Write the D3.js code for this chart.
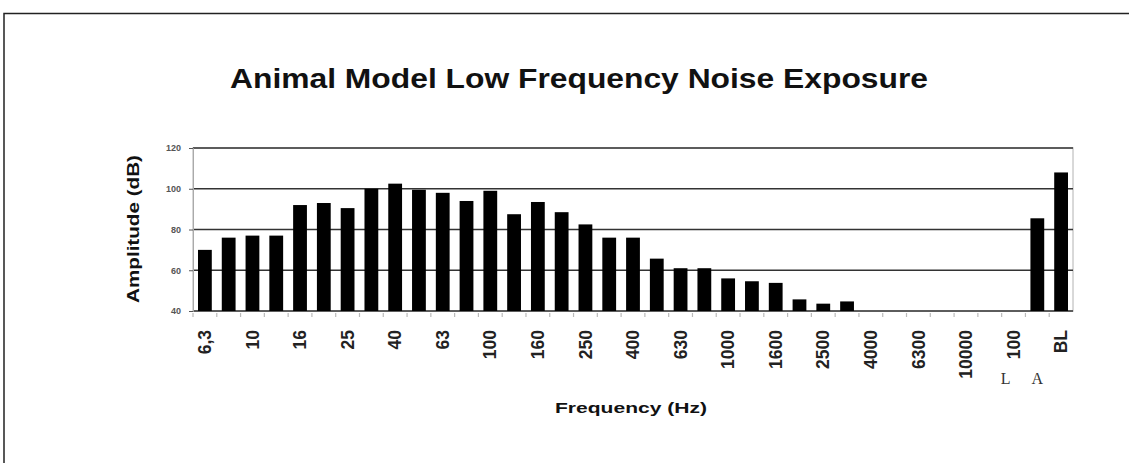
<!DOCTYPE html>
<html>
<head>
<meta charset="utf-8">
<script src="https://cdn.jsdelivr.net/npm/d3@7"></script>
<style>
  body { margin: 0; background: #fff; }
  svg { display: block; font-family: "Liberation Sans", Arial, sans-serif; }
</style>
</head>
<body>
<div id="chart"></div>
<script>
/* animal model low frequency noise exposure - bar chart */

// one bar per third-octave band, plus two summary bars at the end
const bands = ["6,3","8","10","12,5","16","20","25","31,5","40","50","63","80","100","125","160","200",
    "250","315","400","500","630","800","1000","1250","1600","2000","2500","3150","4000","5000","6300",
    "8000","10000","12500","16000","LA","BL"];
const amplitude = [70, 76, 77, 77, 92, 93, 90.5, 100, 102.5, 99.5, 98, 94, 99, 87.5, 93.5, 88.5,
    82.5, 76, 76, 65.7, 61, 61, 56, 54.6, 53.8, 45.7, 43.6, 44.7, null, null, null,
    null, null, null, null, 85.5, 108];
const tickLabels = ["6,3","10","16","25","40","63","100","160","250","400","630","1000","1600",
    "2500","4000","6300","10000","100","BL"];   // every other band is labelled
const yTicks = [40, 60, 80, 100, 120];

const width = 1129, height = 463,
    margin = ({top: 148, right: 56, bottom: 152, left: 193});

const data = bands.map((b, i) => ({band: b, value: amplitude[i]}));

let svg = d3.select("#chart")
    .append("svg")
    .attr("width", width)
    .attr("height", height);

// outer frame (top and left edges only, the rest is cut off)
svg.append("path")
    .attr("d", `M4,${height} V13.5 H${width}`)
    .attr("fill", "none")
    .attr("stroke", "#222")
    .attr("stroke-width", 1.5);

const x = d3.scaleBand()
    .domain(bands)
    .range([margin.left, width - margin.right])
    .paddingInner(0.42)
    .paddingOuter(0.21);

const y = d3.scaleLinear()
    .domain([40, 120])
    .range([height - margin.bottom, margin.top]);

// plot area border, light grey
svg.append("rect")
    .attr("x", margin.left)
    .attr("y", margin.top)
    .attr("width", width - margin.right - margin.left)
    .attr("height", y(40) - margin.top)
    .attr("fill", "none")
    .attr("stroke", "#ccc")
    .attr("stroke-width", 1.5);

// gridlines
svg.append("g")
    .selectAll("line")
    .data(yTicks)
    .join("line")
    .attr("x1", margin.left)
    .attr("x2", width - margin.right)
    .attr("y1", d => y(d))
    .attr("y2", d => y(d))
    .attr("stroke", "#333")
    .attr("stroke-width", 1.3);

// y axis
svg.append("g")
    .attr("transform", `translate(${margin.left},0)`)
    .call(d3.axisLeft(y).tickValues(yTicks).tickSize(4).tickPadding(8))
    .call(g => g.select(".domain").attr("stroke", "#aaa"))
    .call(g => g.selectAll(".tick line").attr("stroke", "#555"))
    .call(g => g.selectAll(".tick text")
        .attr("font-size", 9)
        .attr("fill", "#555")
        .attr("font-weight", "bold"));

// little tick marks between the bands
const step = x.step();
svg.append("g")
    .selectAll("line")
    .data(bands)
    .join("line")
    .attr("x1", d => x(d) - (step - x.bandwidth()) / 2)
    .attr("x2", d => x(d) - (step - x.bandwidth()) / 2)
    .attr("y1", y(40) + 2)
    .attr("y2", y(40) + 6)
    .attr("stroke", "#bbb")
    .attr("stroke-width", 1.2);

// bars
svg.append("g")
    .selectAll("rect")
    .data(data.filter(d => d.value != null))
    .join("rect")
    .attr("fill", "#000")
    .attr("x", d => x(d.band))
    .attr("width", x.bandwidth())
    .attr("y", d => y(d.value))
    .attr("height", d => y(40) - y(d.value));

// rotated category labels, every second band
svg.append("g")
    .selectAll("text")
    .data(bands.filter((b, i) => i % 2 === 0))
    .join("text")
    .attr("transform", d => `translate(${x(d) + x.bandwidth() / 2},330) rotate(-90)`)
    .attr("text-anchor", "end")
    .attr("dy", "0.35em")
    .attr("font-size", 17.5)
    .attr("font-weight", "bold")
    .attr("fill", "#222")
    .text((d, i) => tickLabels[i]);

// typed-in "L A" under the last labels
svg.append("text")
    .attr("x", x("16000") + x.bandwidth() / 2 - 8)
    .attr("y", 384)
    .attr("text-anchor", "middle")
    .attr("font-family", "Liberation Serif, serif")
    .attr("font-size", 16)
    .attr("fill", "#333")
    .text("L");
svg.append("text")
    .attr("x", x("LA") + x.bandwidth() / 2)
    .attr("y", 384)
    .attr("text-anchor", "middle")
    .attr("font-family", "Liberation Serif, serif")
    .attr("font-size", 16)
    .attr("fill", "#333")
    .text("A");

// titles
svg.append("text")
    .attr("x", 230)
    .attr("y", 88)
    .attr("font-size", 27)
    .attr("font-weight", "bold")
    .attr("fill", "#111")
    .attr("textLength", 698)
    .attr("lengthAdjust", "spacingAndGlyphs")
    .text("Animal Model Low Frequency Noise Exposure");

svg.append("text")
    .attr("transform", `translate(139,303) rotate(-90)`)
    .attr("font-size", 16)
    .attr("font-weight", "bold")
    .attr("fill", "#111")
    .attr("textLength", 148)
    .attr("lengthAdjust", "spacingAndGlyphs")
    .text("Amplitude (dB)");

svg.append("text")
    .attr("x", 555)
    .attr("y", 413)
    .attr("font-size", 15)
    .attr("font-weight", "bold")
    .attr("fill", "#111")
    .attr("textLength", 152)
    .attr("lengthAdjust", "spacingAndGlyphs")
    .text("Frequency (Hz)");
</script>
</body>
</html>
